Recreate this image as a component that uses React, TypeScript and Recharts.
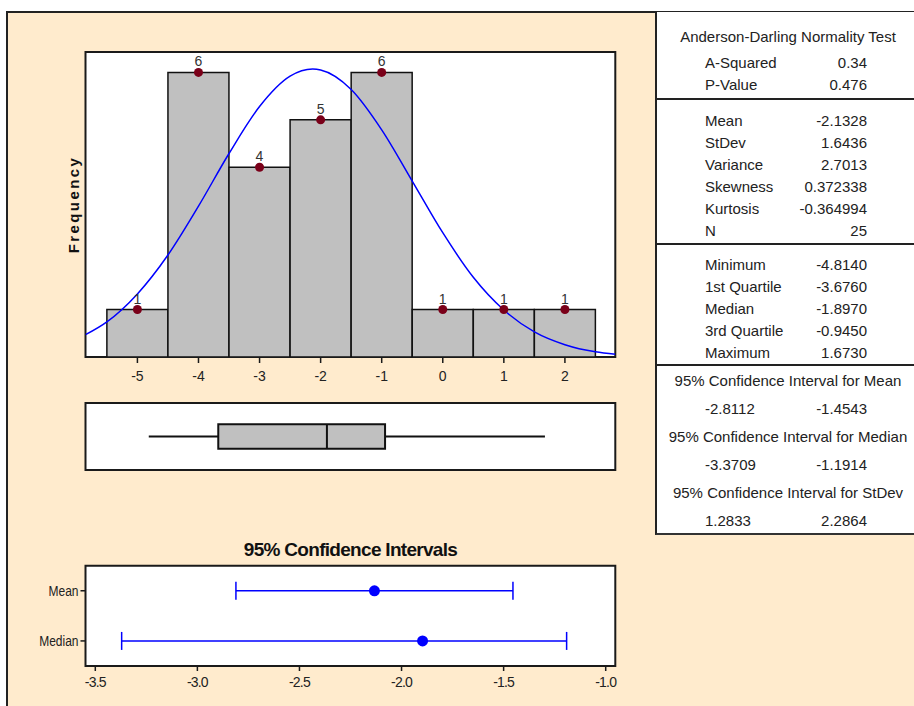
import React from "react"
import {
  ComposedChart,
  Bar,
  Line,
  Scatter,
  XAxis,
  YAxis,
  ZAxis,
  CartesianGrid,
  ReferenceArea,
  ReferenceLine,
  LabelList,
  ErrorBar
} from "recharts"

// histogram: bin centres and counts
const binCenters = [-5, -4, -3, -2, -1, 0, 1, 2]
const binCounts = [1, 6, 4, 5, 6, 1, 1, 1]
const histTicks = [-5, -4, -3, -2, -1, 0, 1, 2]

// fitted normal curve (frequency scale)
const curveX = [-5.85, -5.5, -5, -4.5, -4, -3.5, -3, -2.5, -2.13, -2, -1.5, -1, -0.5, 0, 0.5, 1, 1.5, 2, 2.5, 2.825]
const curveY = [0.47, 0.74, 1.33, 2.15, 3.18, 4.29, 5.28, 5.92, 6.07, 6.05, 5.64, 4.79, 3.71, 2.62, 1.68, 0.99, 0.53, 0.26, 0.11, 0.06]

// box plot: min, Q1, median, Q3, max
const boxStats = [-4.814, -3.676, -1.897, -0.945, 1.673]

// 95% confidence intervals
const ciNames = ["Mean", "Median"]
const ciEstimates = [-2.1328, -1.897]
const ciLower = [-2.8112, -3.3709]
const ciUpper = [-1.4543, -1.1914]
const ciTicks = [-3.5, -3.0, -2.5, -2.0, -1.5, -1.0]

// summary table
const adTitle = "Anderson-Darling Normality Test"
const adLabels = ["A-Squared", "P-Value"]
const adValues = ["0.34", "0.476"]
const momentLabels = ["Mean", "StDev", "Variance", "Skewness", "Kurtosis", "N"]
const momentValues = ["-2.1328", "1.6436", "2.7013", "0.372338", "-0.364994", "25"]
const quantLabels = ["Minimum", "1st Quartile", "Median", "3rd Quartile", "Maximum"]
const quantValues = ["-4.8140", "-3.6760", "-1.8970", "-0.9450", "1.6730"]
const ciTitles = [
  "95% Confidence Interval for Mean",
  "95% Confidence Interval for Median",
  "95% Confidence Interval for StDev"
]
const ciLowText = ["-2.8112", "-3.3709", "1.2833"]
const ciHighText = ["-1.4543", "-1.1914", "2.2864"]

const HIST_DOMAIN: [number, number] = [-5.85, 2.825]
const HIST_Y: [number, number] = [0, 6.43]
const CI_DOMAIN: [number, number] = [-3.548, -0.953]
const CI_ROWS: [number, number] = [0.5, 2.5]
const FRAME = "#1a1a1a"
const PEACH = "#ffebcd"
const FONT = "'Liberation Sans', Arial, sans-serif"

const Histogram = () => {
  const bins = binCenters.map((x, i) => ({ x, count: binCounts[i] }))
  const curve = curveX.map((x, i) => ({ x, y: curveY[i] }))
  return (
    <ComposedChart
      width={640}
      height={400}
      data={bins}
      barCategoryGap={0}
      barGap={0}
      margin={{ top: 52, right: 24.7, bottom: 13, left: 61.5 }}
    >
      <CartesianGrid horizontal={false} vertical={false} fill="#fff" />
      <XAxis
        dataKey="x"
        type="number"
        domain={HIST_DOMAIN}
        ticks={histTicks}
        interval={0}
        allowDataOverflow
        axisLine={false}
        tickSize={6}
        tickMargin={8}
        height={30}
        tickLine={{ stroke: FRAME, strokeWidth: 1.5 }}
        tick={{ fontSize: 14, fill: "#222" }}
      />
      <XAxis xAxisId="curve" dataKey="x" type="number" domain={HIST_DOMAIN} hide allowDataOverflow />
      <YAxis
        type="number"
        domain={HIST_Y}
        allowDataOverflow
        width={24}
        tick={false}
        tickLine={false}
        axisLine={false}
        label={{
          value: "Frequency",
          angle: -90,
          position: "center",
          fontSize: 15,
          fontWeight: 700,
          letterSpacing: 2.4,
          fill: "#111"
        }}
      />
      <Bar dataKey="count" fill="#c0c0c0" stroke="#111" strokeWidth={1.5} isAnimationActive={false}>
        <LabelList dataKey="count" position="top" offset={6} fontSize={14} fill="#333" />
      </Bar>
      <Line
        xAxisId="curve"
        data={curve}
        dataKey="y"
        type="monotone"
        stroke="#0000ff"
        strokeWidth={1.5}
        dot={false}
        activeDot={false}
        isAnimationActive={false}
      />
      <Scatter dataKey="count" fill="#7a0019" isAnimationActive={false} />
      <ReferenceArea
        x1={HIST_DOMAIN[0]}
        x2={HIST_DOMAIN[1]}
        y1={HIST_Y[0]}
        y2={HIST_Y[1]}
        fill="none"
        stroke={FRAME}
        strokeWidth={2}
        ifOverflow="visible"
      />
    </ComposedChart>
  )
}

const BoxPlot = () => {
  const [lo, q1, med, q3, hi] = boxStats
  const lowWhisker = [{ x: lo, y: 0.5 }, { x: q1, y: 0.5 }]
  const highWhisker = [{ x: q3, y: 0.5 }, { x: hi, y: 0.5 }]
  return (
    <ComposedChart width={640} height={110} margin={{ top: 23, right: 24.7, bottom: 20, left: 85.5 }}>
      <CartesianGrid horizontal={false} vertical={false} fill="#fff" />
      <XAxis dataKey="x" type="number" domain={HIST_DOMAIN} hide allowDataOverflow />
      <YAxis type="number" domain={[0, 1]} hide allowDataOverflow />
      <Line data={lowWhisker} dataKey="y" stroke="#111" strokeWidth={2} dot={false} activeDot={false} isAnimationActive={false} />
      <Line data={highWhisker} dataKey="y" stroke="#111" strokeWidth={2} dot={false} activeDot={false} isAnimationActive={false} />
      <ReferenceArea x1={q1} x2={q3} y1={0.318} y2={0.682} fill="#c0c0c0" fillOpacity={1} stroke="#111" strokeWidth={2} />
      <ReferenceLine segment={[{ x: med, y: 0.318 }, { x: med, y: 0.682 }]} stroke="#111" strokeWidth={2} />
      <ReferenceArea
        x1={HIST_DOMAIN[0]}
        x2={HIST_DOMAIN[1]}
        y1={0}
        y2={1}
        fill="none"
        stroke={FRAME}
        strokeWidth={2}
        ifOverflow="visible"
      />
    </ComposedChart>
  )
}

const NarrowTick = (props: any) => {
  const { x, y, payload } = props
  return (
    <text
      transform={`translate(${x},${y}) scale(0.8,1)`}
      textAnchor="end"
      dominantBaseline="central"
      fontSize={15}
      fill="#222"
    >
      {ciNames[payload.value - 1]}
    </text>
  )
}

const CIChart = () => {
  const rows = ciNames.map((name, i) => ({
    name,
    row: i + 1,
    est: ciEstimates[i],
    err: [ciEstimates[i] - ciLower[i], ciUpper[i] - ciEstimates[i]]
  }))
  return (
    <ComposedChart width={640} height={166} data={rows} margin={{ top: 25.7, right: 24.7, bottom: 10, left: 25.5 }}>
      <CartesianGrid horizontal={false} vertical={false} fill="#fff" />
      <XAxis
        type="number"
        dataKey="est"
        domain={CI_DOMAIN}
        ticks={ciTicks}
        interval={0}
        allowDataOverflow
        tickFormatter={(v: number) => v.toFixed(1)}
        axisLine={false}
        tickSize={5}
        tickMargin={6}
        height={30}
        tickLine={{ stroke: FRAME, strokeWidth: 1.5 }}
        tick={{ fontSize: 14, fill: "#222", letterSpacing: -0.8 }}
      />
      <YAxis
        type="number"
        dataKey="row"
        domain={CI_ROWS}
        ticks={rows.map((r) => r.row)}
        interval={0}
        reversed
        allowDataOverflow
        width={60}
        axisLine={false}
        tickSize={5}
        tickMargin={2}
        tickLine={{ stroke: FRAME, strokeWidth: 1.5 }}
        tick={<NarrowTick />}
      />
      <ZAxis range={[95, 95]} />
      <Scatter dataKey="est" fill="#0000ff" isAnimationActive={false}>
        <ErrorBar dataKey="err" direction="x" width={9} stroke="#0000ff" strokeWidth={1.5} />
      </Scatter>
      <ReferenceArea
        x1={CI_DOMAIN[0]}
        x2={CI_DOMAIN[1]}
        y1={CI_ROWS[0]}
        y2={CI_ROWS[1]}
        fill="none"
        stroke={FRAME}
        strokeWidth={2}
        ifOverflow="visible"
      />
    </ComposedChart>
  )
}

const txt: React.CSSProperties = {
  position: "absolute",
  fontSize: 15,
  lineHeight: "18px",
  height: 18,
  color: "#222",
  whiteSpace: "nowrap"
}

const Row = ({ y, label, value }: { y: number; label: string; value: string }) => (
  <>
    <div style={{ ...txt, left: 705, top: y - 9 }}>{label}</div>
    <div style={{ ...txt, left: 767, width: 100, textAlign: "right", top: y - 9 }}>{value}</div>
  </>
)

const Sep = ({ y }: { y: number }) => (
  <div style={{ position: "absolute", left: 655, width: 259, top: y - 1, height: 2, background: "#222" }} />
)

const StatsPanel = () => (
  <>
    <div
      style={{
        position: "absolute",
        left: 655,
        top: 12,
        width: 259,
        height: 523,
        background: "#fff",
        borderLeft: "2px solid #222",
        borderBottom: "2px solid #333",
        boxSizing: "border-box"
      }}
    />
    <div style={{ ...txt, left: 660, width: 256, textAlign: "center", top: 36.5 - 9 }}>{adTitle}</div>
    {adLabels.map((l, i) => (
      <Row key={l} y={63 + i * 22} label={l} value={adValues[i]} />
    ))}
    <Sep y={98.5} />
    {momentLabels.map((l, i) => (
      <Row key={l} y={120.5 + i * 22} label={l} value={momentValues[i]} />
    ))}
    <Sep y={243.5} />
    {quantLabels.map((l, i) => (
      <Row key={l} y={265 + i * 22} label={l} value={quantValues[i]} />
    ))}
    <Sep y={364.5} />
    {ciTitles.map((t, i) => (
      <React.Fragment key={t}>
        <div style={{ ...txt, left: 660, width: 256, textAlign: "center", top: 381 + i * 56 - 9 }}>{t}</div>
        <div style={{ ...txt, left: 705, top: 408.5 + i * 56 - 9 }}>{ciLowText[i]}</div>
        <div style={{ ...txt, left: 767, width: 100, textAlign: "right", top: 408.5 + i * 56 - 9 }}>{ciHighText[i]}</div>
      </React.Fragment>
    ))}
  </>
)

const App = () => {
  return (
    <div
      style={{
        position: "absolute",
        left: 0,
        top: 0,
        width: 914,
        height: 706,
        background: "#fff",
        fontFamily: FONT,
        overflow: "hidden"
      }}
    >
      <div
        style={{
          position: "absolute",
          left: 6,
          top: 11,
          width: 908,
          height: 695,
          background: PEACH,
          borderTop: "2px solid #222",
          borderLeft: "2px solid #222",
          boxSizing: "border-box"
        }}
      />
      <div style={{ position: "absolute", left: 0, top: 0 }}>
        <Histogram />
      </div>
      <div style={{ position: "absolute", left: 0, top: 380 }}>
        <BoxPlot />
      </div>
      <div
        style={{
          position: "absolute",
          left: 0,
          width: 701,
          top: 539,
          lineHeight: "22px",
          fontSize: 19,
          fontWeight: 700,
          letterSpacing: -0.7,
          textAlign: "center",
          color: "#111"
        }}
      >
        95% Confidence Intervals
      </div>
      <div style={{ position: "absolute", left: 0, top: 540 }}>
        <CIChart />
      </div>
      <StatsPanel />
    </div>
  )
}

export default App
